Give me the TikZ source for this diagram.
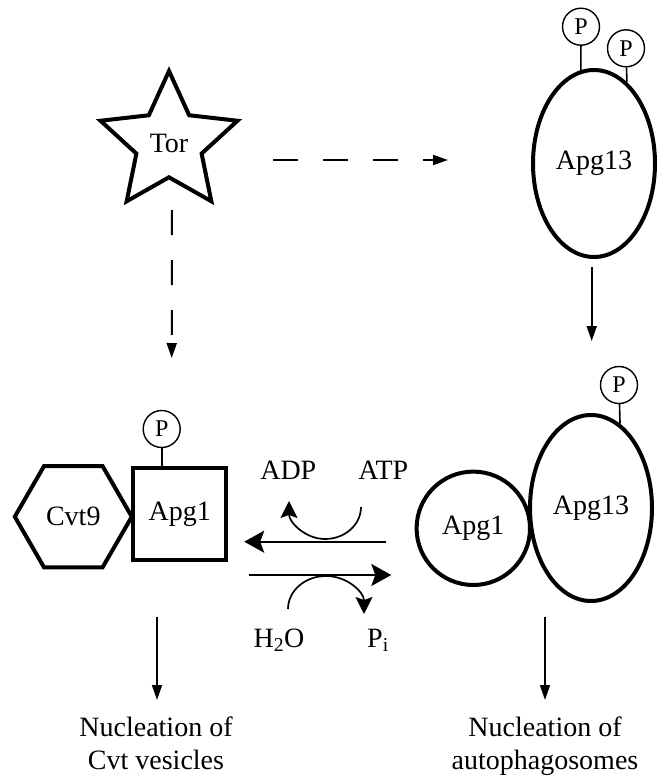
\documentclass[tikz,border=0pt]{standalone}
\usepackage{fontspec}
\setmainfont{Liberation Serif}
\usetikzlibrary{shapes.geometric,arrows.meta,calc}
\begin{document}
\begin{tikzpicture}[x=1pt,y=-1pt,
  lbl/.style={font=\fontsize{28}{33}\selectfont, inner sep=0pt},
  thickshape/.style={draw, line width=4pt, inner sep=0pt, font=\fontsize{28}{33}\selectfont},
  pcirc/.style={circle, draw, line width=1.4pt, minimum size=37pt, inner sep=0pt, font=\fontsize{24}{24}\selectfont},
  stem/.style={line width=1.6pt},
  dasharrow/.style={line width=2pt, dash pattern=on 25pt off 25pt, -{Triangle[length=15pt,width=10pt]}},
  downarrow/.style={line width=1.7pt, -{Triangle[length=15pt,width=10pt]}},
  rxn/.style={line width=2pt, -{Stealth[length=20pt,width=22pt,inset=4pt]}},
  curv/.style={line width=1.7pt, -{Stealth[length=17pt,width=17pt,inset=3pt]}},
]
\useasboundingbox (0,0) rectangle (663,776);

% Tor star
\node[thickshape, star, star points=5, star point ratio=2.1, minimum size=144pt] (tor) at (169,143) {Tor};

% top Apg13
\node[thickshape, ellipse, minimum width=122pt, minimum height=187pt] (a13t) at (594,163.5) {Apg13};
\node[pcirc] (pt1) at (581,26.7) {P};
\node[pcirc] (pt2) at (626,48.3) {P};
\draw[stem] (pt1) -- (a13t.98);
\draw[stem] (pt2) -- (a13t.68);

% left complex
\node[thickshape, regular polygon, regular polygon sides=6, minimum size=117pt] (cvt) at (73.3,516.7) {Cvt9};
\node[thickshape, rectangle, minimum width=93pt, minimum height=92pt] (sq) at (179.7,514) {Apg1};
\node[pcirc] (ps) at (161.7,429) {P};
\draw[stem] (ps) -- (ps |- sq.north);

% right complex
\node[thickshape, circle, minimum size=113.4pt] (a1c) at (473.3,528.3) {Apg1};
\node[thickshape, ellipse, minimum width=122pt, minimum height=186pt] (a13b) at (591,508) {Apg13};
\node[pcirc] (pb) at (619,385) {P};
\draw[stem] (pb) -- (a13b.71.3);

% dashed arrows from Tor
\draw[dasharrow] ($(tor.center)+(104,17)$) -- ($(a13t.west)+(-83,-3.5)$);
\draw[dasharrow] ($(tor.center)+(3,67)$) -- ($(sq.north)+(-8,-108)$);

% Apg13 -> complex
\draw[downarrow] ($(a13t.south)+(-2.3,8)$) -- ($(a13b.north)+(0.7,-72)$);

% reaction arrows
\draw[rxn] ($(a1c.west)+(-28.7,13.4)$) -- ($(sq.east)+(16,27.7)$);
\draw[rxn] ($(sq.east)+(20.5,61)$) -- ($(a1c.west)+(-23.3,46.7)$);

% curved arrows
\draw[curv] (361,507) .. controls (361,524.7) and (344.9,539) .. (325,539)
            .. controls (305.1,539) and (289,522) .. (289,501);
\draw[curv] (288,609) .. controls (288,590.8) and (305,576) .. (326,576)
            .. controls (347,576) and (364,592) .. (364,614);

% labels
\node[lbl, anchor=base] (adp) at (288.3,479) {ADP};
\node[lbl, anchor=base] (atp) at (383.3,479) {ATP};
\node[lbl, anchor=base] (h2o) at (279,647) {H\textsubscript{2}O};
\node[lbl, anchor=base] (pi) at (378,647) {P\textsubscript{i}};

\node[lbl, anchor=base, align=center] (nuc1) at (156,769) {Nucleation of\\Cvt vesicles};
\node[lbl, anchor=base, align=center] (nuc2) at (545,769) {Nucleation of\\autophagosomes};

\draw[downarrow] ($(nuc1.base)+(1,-152)$) -- ($(nuc1.base)+(1,-69)$);
\draw[downarrow] ($(nuc2.base)+(0,-152)$) -- ($(nuc2.base)+(0,-69)$);
\end{tikzpicture}
\end{document}
